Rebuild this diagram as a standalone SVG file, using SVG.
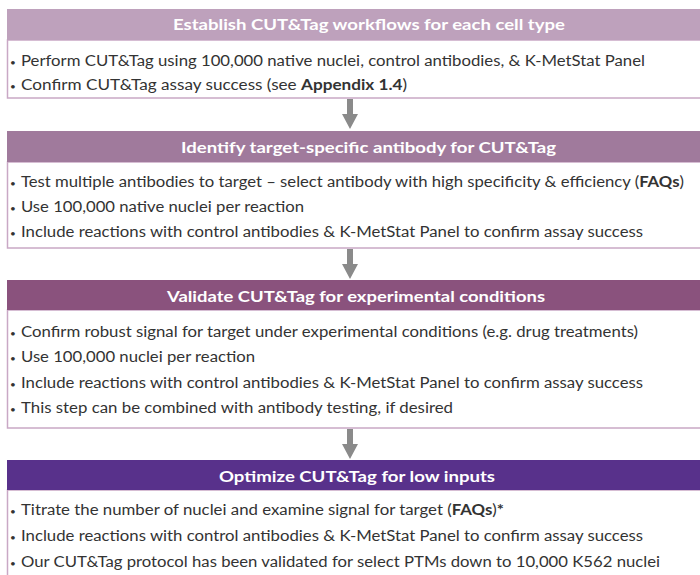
<svg xmlns="http://www.w3.org/2000/svg" width="700" height="575" viewBox="0 0 700 575">
<defs>
<style>
.hd{font-family:Lato,"Open Sans","Liberation Sans",sans-serif;font-size:15.5px;font-weight:bold;fill:#ffffff}
.tx{font-family:Lato,"Open Sans","Liberation Sans",sans-serif;font-size:14.5px;fill:#333333}
.bl{font-family:Lato,"Liberation Sans",sans-serif;font-size:10px;fill:#333333}
.b{font-weight:bold}
.body{fill:#ffffff;stroke:#c9a8c5;stroke-width:1.5}
.arr{fill:#8a8a8a}
</style>
</defs>
<rect width="700" height="575" fill="#ffffff"/>
<g id="connectors">
<path class="arr" d="M347,99 H353 V114 H358 L350,129 L342,114 H347 Z"/>
<path class="arr" d="M347,249 H353 V264 H358 L350,279 L342,264 H347 Z"/>
<path class="arr" d="M347,429 H353 V444 H358 L350,459 L342,444 H347 Z"/>
</g>
<g id="step1">
<rect class="body" x="7.5" y="40" width="720" height="58"/>
<rect x="7" y="9" width="720" height="31" fill="#bea1bc"/>
<text class="hd" x="173" y="30" textLength="392" lengthAdjust="spacingAndGlyphs">Establish CUT&amp;Tag workflows for each cell type</text>
<text class="bl" x="10" y="66">•</text>
<text class="tx" x="21" y="66" textLength="624" lengthAdjust="spacingAndGlyphs">Perform CUT&amp;Tag using 100,000 native nuclei, control antibodies, &amp; K-MetStat Panel</text>
<text class="bl" x="10" y="90">•</text>
<text class="tx" x="21" y="90" textLength="386" lengthAdjust="spacingAndGlyphs">Confirm CUT&amp;Tag assay success (see <tspan class="b">Appendix 1.4</tspan>)</text>
</g>
<g id="step2">
<rect class="body" x="7.5" y="162" width="720" height="86"/>
<rect x="7" y="131" width="720" height="31" fill="#a07a9c"/>
<text class="hd" x="181" y="153" textLength="375" lengthAdjust="spacingAndGlyphs">Identify target-specific antibody for CUT&amp;Tag</text>
<text class="bl" x="10" y="187">•</text>
<text class="tx" x="21" y="187" textLength="663" lengthAdjust="spacingAndGlyphs">Test multiple antibodies to target – select antibody with high specificity &amp; efficiency (<tspan class="b">FAQs</tspan>)</text>
<text class="bl" x="10" y="212">•</text>
<text class="tx" x="21" y="212" textLength="283" lengthAdjust="spacingAndGlyphs">Use 100,000 native nuclei per reaction</text>
<text class="bl" x="10" y="237">•</text>
<text class="tx" x="21" y="237" textLength="622" lengthAdjust="spacingAndGlyphs">Include reactions with control antibodies &amp; K-MetStat Panel to confirm assay success</text>
</g>
<g id="step3">
<rect class="body" x="7.5" y="310" width="720" height="118"/>
<rect x="7" y="280" width="720" height="30" fill="#8a527d"/>
<text class="hd" x="167" y="302" textLength="378" lengthAdjust="spacingAndGlyphs">Validate CUT&amp;Tag for experimental conditions</text>
<text class="bl" x="10" y="337">•</text>
<text class="tx" x="21" y="337" textLength="617" lengthAdjust="spacingAndGlyphs">Confirm robust signal for target under experimental conditions (e.g. drug treatments)</text>
<text class="bl" x="10" y="362">•</text>
<text class="tx" x="21" y="362" textLength="234" lengthAdjust="spacingAndGlyphs">Use 100,000 nuclei per reaction</text>
<text class="bl" x="10" y="388">•</text>
<text class="tx" x="21" y="388" textLength="622" lengthAdjust="spacingAndGlyphs">Include reactions with control antibodies &amp; K-MetStat Panel to confirm assay success</text>
<text class="bl" x="10" y="413">•</text>
<text class="tx" x="21" y="413" textLength="432" lengthAdjust="spacingAndGlyphs">This step can be combined with antibody testing, if desired</text>
</g>
<g id="step4">
<rect class="body" x="7.5" y="490" width="720" height="120"/>
<rect x="7" y="460" width="720" height="30" fill="#58318b"/>
<text class="hd" x="219" y="482" textLength="276" lengthAdjust="spacingAndGlyphs">Optimize CUT&amp;Tag for low inputs</text>
<text class="bl" x="10" y="515">•</text>
<text class="tx" x="21" y="515" textLength="483" lengthAdjust="spacingAndGlyphs">Titrate the number of nuclei and examine signal for target (<tspan class="b">FAQs</tspan>)<tspan class="b">*</tspan></text>
<text class="bl" x="10" y="541">•</text>
<text class="tx" x="21" y="541" textLength="622" lengthAdjust="spacingAndGlyphs">Include reactions with control antibodies &amp; K-MetStat Panel to confirm assay success</text>
<text class="bl" x="10" y="567">•</text>
<text class="tx" x="21" y="567" textLength="639" lengthAdjust="spacingAndGlyphs">Our CUT&amp;Tag protocol has been validated for select PTMs down to 10,000 K562 nuclei</text>
</g>
</svg>
